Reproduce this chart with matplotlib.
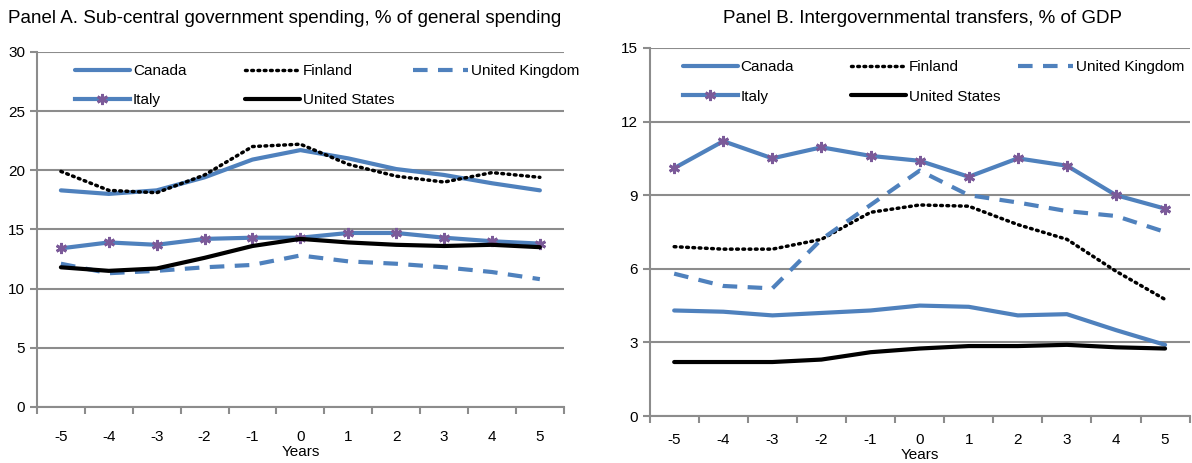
import matplotlib.pyplot as plt
from matplotlib.legend import Legend
from matplotlib.ticker import MultipleLocator

plt.rcParams['font.family'] = ['Liberation Sans', 'DejaVu Sans']

years = [-5, -4, -3, -2, -1, 0, 1, 2, 3, 4, 5]

# Panel A: sub-central government spending, % of general spending
a_canada = [18.3, 18.0, 18.3, 19.4, 20.9, 21.7, 21.0, 20.1, 19.6, 18.9, 18.3]
a_finland = [19.9, 18.3, 18.1, 19.6, 22.0, 22.2, 20.5, 19.5, 19.0, 19.8, 19.4]
a_uk = [12.1, 11.3, 11.5, 11.8, 12.0, 12.8, 12.3, 12.1, 11.8, 11.4, 10.8]
a_italy = [13.4, 13.9, 13.7, 14.2, 14.3, 14.3, 14.7, 14.7, 14.3, 14.0, 13.8]
a_us = [11.8, 11.5, 11.7, 12.6, 13.6, 14.2, 13.9, 13.7, 13.6, 13.7, 13.5]

# Panel B: intergovernmental transfers, % of GDP
b_canada = [4.3, 4.25, 4.1, 4.2, 4.3, 4.5, 4.45, 4.1, 4.15, 3.5, 2.9]
b_finland = [6.9, 6.8, 6.8, 7.2, 8.3, 8.6, 8.55, 7.8, 7.2, 5.9, 4.75]
b_uk = [5.8, 5.3, 5.2, 7.2, 8.6, 10.0, 9.0, 8.7, 8.35, 8.15, 7.5]
b_italy = [10.1, 11.2, 10.5, 10.95, 10.6, 10.4, 9.75, 10.5, 10.2, 9.0, 8.45]
b_us = [2.2, 2.2, 2.2, 2.3, 2.6, 2.75, 2.85, 2.85, 2.9, 2.8, 2.75]

blue = '#4f81bd'
purple = '#7b5a99'
grid = '#8c8c8c'

fig = plt.figure(figsize=(11.92, 4.63), dpi=100)
ax1 = fig.add_axes([0.031, 0.121, 0.442, 0.767])
ax2 = fig.add_axes([0.545, 0.1015, 0.453, 0.795])


def draw(ax, canada, finland, uk, italy, us, ymax, step, tickpad, leg_x, title, title_x):
    l_can, = ax.plot(years, canada, color=blue, lw=3, solid_capstyle='round')
    l_fin, = ax.plot(years, finland, color='black', lw=2.5, linestyle=(0, (0.5, 1.3)),
                     dash_capstyle='round')
    l_uk, = ax.plot(years, uk, color=blue, lw=3, linestyle=(0, (3.5, 2.5)))
    l_ita, = ax.plot(years, italy, color=blue, lw=3, marker=(6, 2, 0), markersize=8,
                     markeredgecolor=purple, markeredgewidth=2)
    l_us, = ax.plot(years, us, color='black', lw=3, solid_capstyle='round')

    ax.set_xlim(-5.5, 5.5)
    ax.set_ylim(0, ymax)
    ax.yaxis.set_major_locator(MultipleLocator(step))
    ax.grid(axis='y', color=grid, lw=1.5)
    ax.set_axisbelow(True)
    for s in ['top', 'right']:
        ax.spines[s].set_visible(False)
    for s in ['left', 'bottom']:
        ax.spines[s].set_color(grid)
        ax.spines[s].set_linewidth(1.5)

    ax.set_xticks(years)
    ax.set_xticklabels([str(y) for y in years])
    ax.set_xticks([y + 0.5 for y in [-6] + years], minor=True)
    ax.tick_params(axis='x', which='major', length=0, pad=tickpad, labelsize=11)
    ax.tick_params(axis='x', which='minor', length=5, width=1.5, color=grid)
    ax.tick_params(axis='y', length=5, width=1.5, color=grid, labelsize=11)
    ax.set_xlabel('Years', fontsize=11, labelpad=1)

    # legend: three columns placed one by one, as in the original chart
    cols = [([l_can, l_ita], ['Canada', 'Italy']),
            ([l_fin, l_us], ['Finland', 'United States']),
            ([l_uk], ['United Kingdom'])]
    for (handles, labels), x in zip(cols, leg_x):
        leg = Legend(ax, handles, labels, loc='upper left', bbox_to_anchor=(x, 0.966),
                     frameon=False, fontsize=11, handlelength=3.6,
                     handletextpad=0.2, labelspacing=1.0, borderpad=0,
                     borderaxespad=0)
        ax.add_artist(leg)
    fig.text(title_x, 0.961, title, fontsize=13.5, ha='center', va='center')


draw(ax1, a_canada, a_finland, a_uk, a_italy, a_us, 30, 5, 16.5,
     [0.072, 0.395, 0.714],
     'Panel A. Sub-central government spending, % of general spending', 0.239)
draw(ax2, b_canada, b_finland, b_uk, b_italy, b_us, 15, 3, 12,
     [0.061, 0.372, 0.683],
     'Panel B. Intergovernmental transfers, % of GDP', 0.774)

fig.savefig('out.png', dpi=100)
